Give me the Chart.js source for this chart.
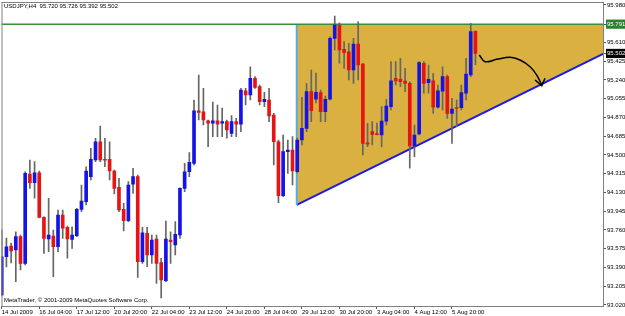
<!DOCTYPE html>
<html>
<head>
<meta charset="utf-8">
<script src="https://cdn.jsdelivr.net/npm/chart.js@4.4.1/dist/chart.umd.min.js"></script>
<style>
  html, body { margin: 0; padding: 0; background: #ffffff; }
  canvas { display: block; }
</style>
</head>
<body>
<canvas id="chart" width="625" height="316"></canvas>
<script>
// USDJPY H4 candles (oldest first)
const opens = [
  93.119, 93.496, 93.602, 93.563, 93.694, 93.431, 94.312, 94.227, 94.325, 93.885,
  93.671, 93.701, 93.595, 93.908, 93.787, 93.668, 93.704, 93.964, 94.039, 94.286,
  94.451, 94.631, 94.457, 94.457, 94.342, 94.181, 93.964, 93.852, 94.211, 94.286,
  93.447, 93.727, 93.513, 93.671, 93.439, 93.260, 93.661, 93.612, 93.711, 94.171,
  94.335, 94.418, 94.937, 94.927, 94.838, 94.813, 94.838, 94.813, 94.829, 94.714,
  94.829, 94.803, 95.134, 95.092, 95.257, 95.174, 95.026, 95.043, 94.895, 94.631,
  94.098, 94.533, 94.549, 94.335, 94.648, 94.763, 95.125, 95.050, 95.115, 94.927,
  95.050, 95.651, 95.783, 95.543, 95.519, 95.339, 95.595, 95.398, 94.621, 94.730,
  94.707, 94.697, 94.835, 94.977, 95.257, 95.247, 95.230, 95.207, 94.589, 94.707,
  95.405, 95.213, 95.233, 94.971, 95.131, 95.273, 94.911, 94.969, 94.967, 95.109,
  95.289, 95.720
];
const highs = [
  93.760, 93.681, 93.632, 93.743, 93.711, 94.335, 94.451, 94.434, 94.342, 93.891,
  94.073, 93.760, 93.957, 93.957, 93.799, 93.792, 93.974, 94.204, 94.384, 94.566,
  94.665, 94.786, 94.665, 94.631, 94.352, 94.270, 94.023, 94.237, 94.369, 94.303,
  93.787, 93.787, 93.711, 93.711, 93.481, 93.849, 93.743, 93.842, 94.177, 94.418,
  94.523, 95.043, 95.289, 95.158, 94.845, 95.023, 94.993, 94.964, 94.845, 94.888,
  94.862, 95.158, 95.158, 95.371, 95.273, 95.191, 95.119, 95.158, 94.911, 94.648,
  94.697, 94.648, 94.681, 94.668, 95.069, 95.207, 95.339, 95.309, 95.141, 95.082,
  95.667, 95.871, 95.805, 95.618, 95.602, 95.651, 95.815, 95.405, 94.813, 94.829,
  94.816, 94.977, 95.050, 95.421, 95.421, 95.454, 95.355, 95.223, 94.796, 95.421,
  95.421, 95.388, 95.306, 95.191, 95.371, 95.289, 95.059, 95.043, 95.191, 95.454,
  95.799, 95.726
];
const lows = [
  93.109, 93.395, 93.434, 93.250, 93.365, 93.415, 94.171, 94.073, 93.878, 93.530,
  93.546, 93.299, 93.546, 93.678, 93.481, 93.579, 93.694, 93.940, 94.007, 94.253,
  94.434, 94.434, 94.384, 94.253, 94.115, 93.940, 93.750, 93.842, 94.122, 93.293,
  93.431, 93.398, 93.431, 93.234, 93.089, 93.250, 93.431, 93.513, 93.678, 94.138,
  94.286, 94.401, 94.845, 94.796, 94.582, 94.681, 94.681, 94.681, 94.665, 94.681,
  94.681, 94.730, 94.993, 95.043, 95.158, 94.993, 94.977, 94.829, 94.401, 94.029,
  94.089, 94.319, 94.204, 94.322, 94.599, 94.730, 94.829, 95.013, 94.829, 94.829,
  95.043, 95.536, 95.405, 95.355, 95.240, 95.207, 95.240, 94.500, 94.582, 94.599,
  94.697, 94.582, 94.796, 94.944, 95.191, 95.174, 95.125, 94.369, 94.483, 94.697,
  95.109, 95.109, 94.911, 94.961, 94.944, 94.862, 94.615, 94.779, 94.944, 95.043,
  95.273, 95.392
];
const closes = [
  93.496, 93.595, 93.553, 93.694, 93.431, 94.319, 94.227, 94.325, 93.885, 93.678,
  93.711, 93.595, 93.908, 93.777, 93.671, 93.711, 93.964, 94.046, 94.342, 94.457,
  94.631, 94.451, 94.448, 94.342, 94.171, 93.957, 93.852, 94.204, 94.286, 93.447,
  93.733, 93.513, 93.661, 93.431, 93.267, 93.671, 93.644, 93.718, 94.171, 94.335,
  94.428, 94.937, 94.921, 94.845, 94.813, 94.838, 94.803, 94.829, 94.747, 94.829,
  94.803, 95.141, 95.092, 95.257, 95.168, 95.026, 95.050, 94.885, 94.631, 94.098,
  94.533, 94.549, 94.342, 94.648, 94.763, 95.125, 94.937, 95.119, 94.927, 95.050,
  95.651, 95.783, 95.536, 95.509, 95.339, 95.595, 95.388, 94.615, 94.606, 94.704,
  94.700, 94.835, 94.983, 95.233, 95.230, 95.223, 95.207, 94.589, 94.697, 95.411,
  95.207, 95.247, 94.971, 95.134, 95.273, 94.911, 94.954, 94.959, 95.115, 95.299,
  95.717, 95.502
];

// time axis labels, one every 8 bars
const timeLabels = [
  "14 Jul 2009", "16 Jul 04:00", "17 Jul 12:00", "20 Jul 20:00", "22 Jul 04:00",
  "23 Jul 12:00", "24 Jul 20:00", "28 Jul 04:00", "29 Jul 12:00", "30 Jul 20:00",
  "3 Aug 04:00", "4 Aug 12:00", "5 Aug 20:00"
];
const priceTicks = [
  95.980, 95.610, 95.425, 95.240, 95.055, 94.870, 94.685, 94.500,
  94.315, 94.130, 93.945, 93.760, 93.575, 93.390, 93.205, 93.020
];

// drawn objects (bar index / price)
const resistLevel = 95.791;
const triangleX = [62.9, 128.2];
const supportY = [94.007, 95.497];
const arrowX = [101.83, 103.05, 105.54, 108.38, 110.51, 112.65, 114.07, 115.14];
const arrowY = [95.487, 95.421, 95.444, 95.464, 95.437, 95.371, 95.289, 95.191];
const arrowHeadX = [113.71, 115.14, 115.84];
const arrowHeadY = [95.240, 95.184, 95.257];

const header = "USDJPY,H4  95.720 95.726 95.392 95.502";
const footer = "MetaTrader, \u00a9 2001-2009 MetaQuotes Software Corp.";

const lastClose = closes[closes.length - 1];
const font = { family: "'Liberation Sans', Arial, sans-serif", size: 6 };

const bodies = opens.map((o, i) => ({ x: i, y: [o, closes[i]] }));
const wicks = lows.map((l, i) => ({ x: i, y: [l, highs[i]] }));
const bodyColors = opens.map((o, i) => (closes[i] >= o ? "#1414e6" : "#e61414"));

const textPlugin = {
  id: "mtText",
  afterDraw(chart) {
    const ctx = chart.ctx;
    const area = chart.chartArea;
    ctx.save();
    // frame
    ctx.strokeStyle = "#808080";
    ctx.lineWidth = 1;
    ctx.strokeRect(area.left + 0.5, area.top + 0.5, area.right - area.left, area.bottom - area.top);
    ctx.fillStyle = "#000";
    ctx.font = "6px " + font.family;
    ctx.textBaseline = "middle";
    ctx.fillText(header, 4, 6);
    ctx.fillText(footer, 4, 300);
    ctx.restore();
  },
};

new Chart(document.getElementById("chart"), {
  type: "bar",
  data: {
    datasets: [
      {
        type: "line",
        data: arrowHeadX.map((x, i) => ({ x: x, y: arrowHeadY[i] })),
        borderColor: "#000",
        borderWidth: 1.5,
        pointRadius: 0,
        order: 0,
      },
      {
        type: "line",
        data: arrowX.map((x, i) => ({ x: x, y: arrowY[i] })),
        borderColor: "#000",
        borderWidth: 1.5,
        pointRadius: 0,
        tension: 0.4,
        order: 0,
      },
      {
        data: bodies,
        backgroundColor: bodyColors,
        barThickness: 3,
        minBarLength: 1,
        grouped: false,
        order: 1,
      },
      {
        data: wicks,
        backgroundColor: "#666",
        barThickness: 1,
        grouped: false,
        order: 2,
      },
      {
        // resistance line across the chart
        type: "line",
        data: [{ x: -0.05, y: resistLevel }, { x: triangleX[1], y: resistLevel }],
        borderColor: "#3a8c3a",
        borderWidth: 1.5,
        pointRadius: 0,
        order: 3,
      },
      {
        // left edge of the triangle
        type: "line",
        data: [{ x: triangleX[0], y: supportY[0] }, { x: triangleX[0], y: resistLevel }],
        borderColor: "#5aa8e8",
        borderWidth: 2,
        pointRadius: 0,
        order: 3,
      },
      {
        // triangle top (fill target)
        type: "line",
        data: triangleX.map((x) => ({ x: x, y: resistLevel })),
        borderColor: "rgba(0,0,0,0)",
        borderWidth: 0,
        pointRadius: 0,
        order: 5,
      },
      {
        // support line, filled up to the triangle top
        type: "line",
        data: triangleX.map((x, i) => ({ x: x, y: supportY[i] })),
        borderColor: "#1c1ce0",
        borderWidth: 2,
        backgroundColor: "#dab040",
        fill: "-1",
        pointRadius: 0,
        order: 4,
      },
    ],
  },
  options: {
    responsive: false,
    animation: false,
    devicePixelRatio: 1,
    events: [],
    layout: { padding: { left: 1.5, top: 2, right: 0, bottom: 0 } },
    plugins: {
      legend: { display: false },
      tooltip: { enabled: false },
      filler: { propagate: false },
    },
    scales: {
      x: {
        type: "linear",
        min: -0.05,
        max: 128.2,
        offset: false,
        grid: { drawOnChartArea: false, offset: false, tickLength: 3, color: "#555" },
        border: { display: false },
        afterBuildTicks: (scale) => {
          scale.ticks = timeLabels.map((_, i) => ({ value: i * 8 }));
        },
        afterFit: (scale) => {
          scale.height = 10;
          scale.paddingLeft = 0;
          scale.paddingRight = 0;
        },
        ticks: {
          autoSkip: false,
          maxRotation: 0,
          align: "start",
          padding: 0,
          color: "#000",
          font: font,
          callback: (value, index) => timeLabels[index],
        },
      },
      y: {
        position: "right",
        min: 93.0101,
        max: 96.0096,
        grid: { drawOnChartArea: false, tickLength: 3, color: "#555" },
        border: { display: false },
        afterBuildTicks: (scale) => {
          scale.ticks = priceTicks.concat([resistLevel, lastClose]).map((v) => ({ value: v }));
        },
        afterFit: (scale) => {
          scale.width = 22;
          scale.paddingTop = 0;
          scale.paddingBottom = 0;
        },
        ticks: {
          padding: 1,
          font: font,
          color: (c) => (c.tick && (c.tick.value === resistLevel || c.tick.value === lastClose) ? "#fff" : "#000"),
          showLabelBackdrop: (c) => !!c.tick && (c.tick.value === resistLevel || c.tick.value === lastClose),
          backdropColor: (c) => (c.tick && c.tick.value === resistLevel ? "#2f7f2f" : "#000"),
          backdropPadding: 1,
          callback: (value) => value.toFixed(3),
        },
      },
    },
  },
  plugins: [textPlugin],
});
</script>
</body>
</html>
